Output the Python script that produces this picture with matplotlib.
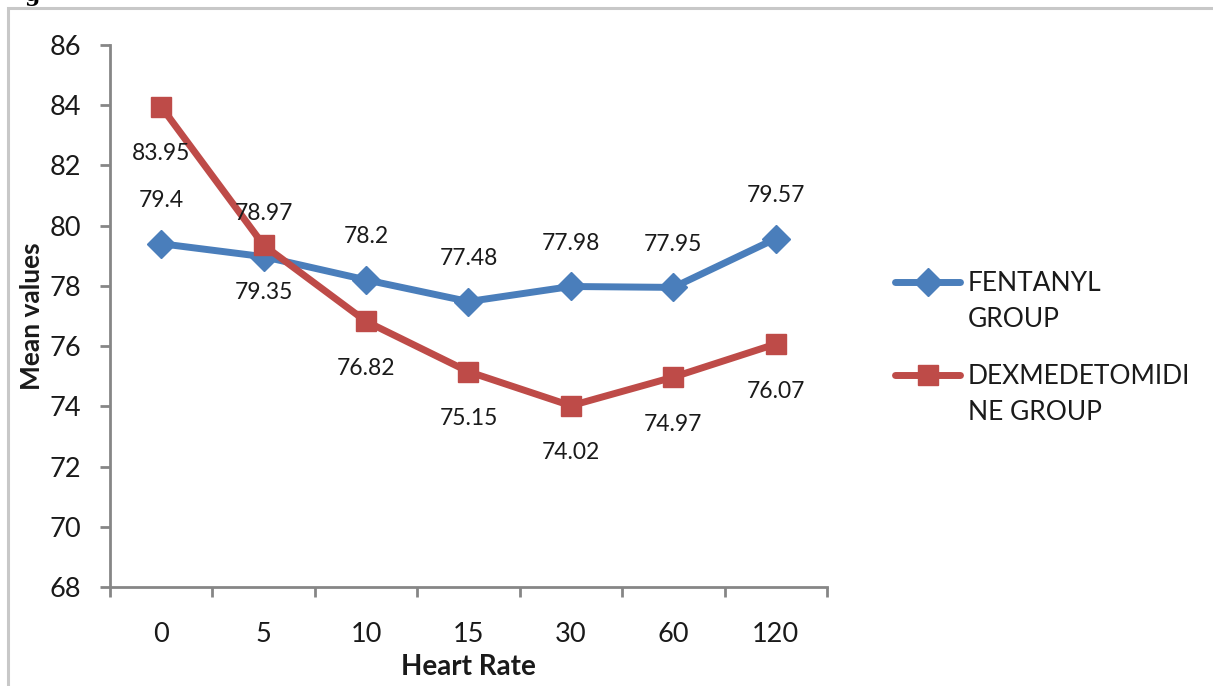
import matplotlib.pyplot as plt
from matplotlib.lines import Line2D
from matplotlib.patches import Rectangle

# mean heart rate per time point (min)
time_points = ['0', '5', '10', '15', '30', '60', '120']
fentanyl = [79.4, 78.97, 78.2, 77.48, 77.98, 77.95, 79.57]
dexmed = [83.95, 79.35, 76.82, 75.15, 74.02, 74.97, 76.07]
series_names = ['FENTANYL\nGROUP', 'DEXMEDETOMIDI\nNE GROUP']

BLUE = '#4A7EBB'
RED = '#BE4B48'
AXIS = '#868686'
INK = '#1a1a1a'
W, H = 1213, 686

plt.rcParams['font.family'] = ['Lato', 'DejaVu Sans']

fig = plt.figure(figsize=(W / 100, H / 100), dpi=100)
ax = fig.add_axes([110 / W, 1 - 587 / H, 717 / W, 542 / H])

# outer frame of the figure panel
fig.patches.append(Rectangle((8 / W, -0.1), 1.2, 1.1 - 8 / H, transform=fig.transFigure,
                             fill=False, edgecolor='#c8c8c8', linewidth=2.2))
fig.text(24 / W, 1 - 1 / H, 'g', fontsize=16, fontweight='bold', family='DejaVu Serif',
         ha='left', va='baseline')

x = list(range(len(time_points)))
colors = [BLUE, RED]
markers = [dict(marker='D', ms=14), dict(marker='s', ms=15)]
ax.plot(x, fentanyl, color=BLUE, lw=5, solid_joinstyle='round', zorder=3, **markers[0])
ax.plot(x, dexmed, color=RED, lw=5, solid_joinstyle='round', zorder=4, **markers[1])

# value labels: fentanyl above its markers, dexmedetomidine below
for xi, v in zip(x, fentanyl):
    ax.annotate(f'{v:g}', (xi, v), xytext=(0, 31), textcoords='offset points',
                ha='center', va='center', fontsize=16.5, color=INK, zorder=5)
for xi, v in zip(x, dexmed):
    ax.annotate(f'{v:g}', (xi, v), xytext=(0, -34), textcoords='offset points',
                ha='center', va='center', fontsize=16.5, color=INK, zorder=5)

ax.set_xlim(-0.5, len(time_points) - 0.5)
ax.set_ylim(68, 86)
ax.set_yticks(range(68, 87, 2))
ax.set_xticks(x)
ax.set_xticklabels(time_points)
ax.set_xticks([i - 0.5 for i in range(len(time_points) + 1)], minor=True)
ax.tick_params(axis='x', which='major', length=0, pad=25, labelsize=19.5, labelcolor=INK)
ax.tick_params(axis='x', which='minor', length=7, width=2, color=AXIS, direction='out')
ax.tick_params(axis='y', length=7, width=2, color=AXIS, pad=14, labelsize=19.5,
               labelcolor=INK)

for s in ['top', 'right']:
    ax.spines[s].set_visible(False)
for s in ['left', 'bottom']:
    ax.spines[s].set_color(AXIS)
    ax.spines[s].set_linewidth(2)

ax.set_xlabel('Heart Rate', fontsize=20, fontweight='bold', color=INK)
ax.xaxis.set_label_coords(0.5, -(667 - 587) / 542)
ax.xaxis.label.set_va('center')
ax.set_ylabel('Mean values', fontsize=19, fontweight='bold', color=INK)
ax.yaxis.set_label_coords(-(110 - 32) / 717, 0.5)
ax.yaxis.label.set_va('center')

# legend: handle sits on the first line of each wrapped name
for y_px, name, col, mk in zip([282, 375], series_names, colors, markers):
    yf = 1 - y_px / H
    fig.add_artist(Line2D([895 / W, 960 / W], [yf, yf], transform=fig.transFigure,
                          color=col, lw=5, solid_capstyle='round'))
    fig.add_artist(Line2D([927.5 / W], [yf], transform=fig.transFigure, color=col,
                          lw=0, **mk))
    fig.text(968 / W, yf + 11 / H, name, fontsize=19, color=INK, ha='left', va='top',
             linespacing=1.55, transform=fig.transFigure)

fig.savefig('out.png', dpi=100)
